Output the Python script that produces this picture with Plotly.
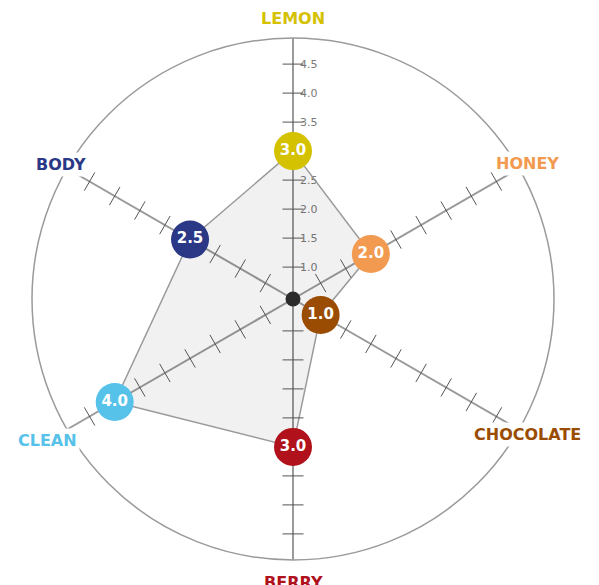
import math
import plotly.graph_objects as go

# ---- data ----
categories = ["LEMON", "HONEY", "CHOCOLATE", "BERRY", "CLEAN", "BODY"]
values = [3.0, 2.0, 1.0, 3.0, 4.0, 2.5]
colors = ["#D4C100", "#F29A50", "#9A4D02", "#B0111B", "#56C2EA", "#2A3886"]
tick_values = [1.0, 1.5, 2.0, 2.5, 3.0, 3.5, 4.0, 4.5]
tick_labels = ["1.0", "1.5", "2.0", "2.5", "", "3.5", "4.0", "4.5"]

# ---- layout constants ----
W, H = 599, 585
PAGE_OFFSET = 8          # browser body margin
CX, CY, RPX = 293 - PAGE_OFFSET, 299 - PAGE_OFFSET, 261
R_MIN, R_MAX = 0.45, 4.95
label_radius_px = [281, 271, 271, 283, 283, 268]
FONT = "DejaVu Sans"

# angle (ccw from east, degrees) of each category spoke: clockwise from top
angles = [90 - 60 * i for i in range(len(categories))]

fig = go.Figure()

# filled polygon
fig.add_trace(go.Scatterpolar(
    r=values + [values[0]], theta=categories + [categories[0]],
    mode="lines", fill="toself", fillcolor="rgba(0,0,0,0.055)",
    line=dict(color="#9a9a9a", width=1.5), hoverinfo="skip", showlegend=False,
))

# tick crosses on every spoke
tr, tt, ta = [], [], []
for cat, ang in zip(categories, angles):
    for v in tick_values:
        tr.append(v)
        tt.append(cat)
        ta.append(-(ang + 90))
fig.add_trace(go.Scatterpolar(
    r=tr, theta=tt, mode="markers",
    marker=dict(symbol="line-ew", size=15, angle=ta,
                line=dict(color="#555555", width=1)),
    hoverinfo="skip", showlegend=False,
))

# centre dot
fig.add_trace(go.Scatterpolar(
    r=[R_MIN], theta=[categories[0]], mode="markers",
    marker=dict(size=15, color="#2a2a2a"), hoverinfo="skip", showlegend=False,
))

# value markers
fig.add_trace(go.Scatterpolar(
    r=values, theta=categories, mode="markers+text",
    marker=dict(size=38, color=colors, line=dict(width=0)),
    text=[f"{v:.1f}" for v in values], textposition="middle center",
    textfont=dict(family=FONT, size=15, color="white", weight="bold"),
    hoverinfo="skip", showlegend=False,
))

# category labels
annotations = []
for cat, ang, col, rp in zip(categories, angles, colors, label_radius_px):
    px = CX + rp * math.cos(math.radians(ang))
    py = CY - rp * math.sin(math.radians(ang))
    annotations.append(dict(
        x=px / W, y=1 - py / H, xref="paper", yref="paper",
        text=cat, showarrow=False, xanchor="center", yanchor="middle",
        font=dict(family=FONT, size=16, color=col, weight="bold"),
        bgcolor="white", borderpad=2,
    ))

fig.update_layout(
    width=W, height=H, margin=dict(l=0, r=0, t=0, b=0),
    paper_bgcolor="white", showlegend=False,
    annotations=annotations,
    polar=dict(
        domain=dict(x=[(CX - RPX) / W, (CX + RPX) / W],
                    y=[1 - (CY + RPX) / H, 1 - (CY - RPX) / H]),
        bgcolor="white",
        angularaxis=dict(
            type="category", categoryarray=categories, rotation=90,
            direction="clockwise", showline=True, linecolor="#9a9a9a",
            linewidth=1.5, showgrid=True, gridcolor="#9a9a9a", gridwidth=1.5,
            showticklabels=False, ticks="", layer="below traces",
        ),
        radialaxis=dict(
            range=[R_MIN, R_MAX], angle=90, tickangle=90,
            tickvals=tick_values, ticktext=tick_labels,
            ticks="outside", ticklen=4, tickcolor="rgba(0,0,0,0)",
            showline=True, linecolor="#9a9a9a", linewidth=1.5,
            showgrid=False, layer="below traces",
            tickfont=dict(family=FONT, size=11, color="#7a7a7a"),
        ),
    ),
)

fig.write_html("out.html")
